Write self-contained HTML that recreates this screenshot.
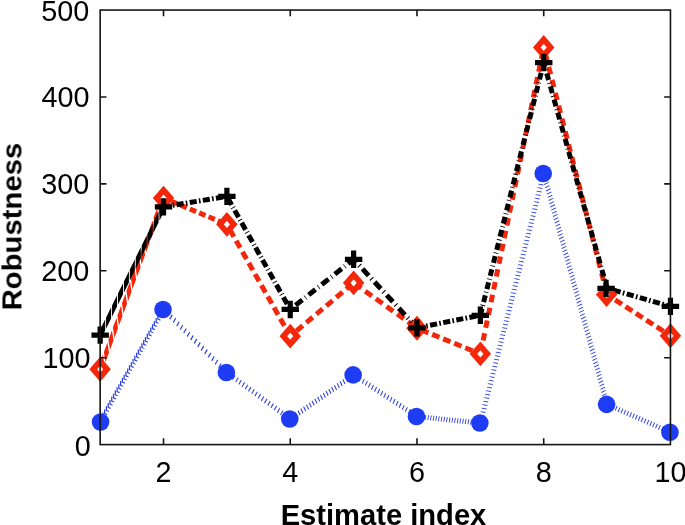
<!DOCTYPE html>
<html><head><meta charset="utf-8"><title>Robustness vs Estimate index</title>
<style>html,body{margin:0;padding:0;background:#fff;}body{width:685px;height:525px;overflow:hidden;font-family:"Liberation Sans",sans-serif;}svg{display:block;}</style>
</head><body>
<svg width="685" height="525" viewBox="0 0 685 525">
<rect width="100%" height="100%" fill="#fff"/>
<g class="series-blue"><path fill="#2c3fe6" d="M102.25 412.55h1.25v3.9l1.9 .8v1.1l-3.15-1.2zM104.03 409.4h1.25v3.9l1.9 .8v1.1l-3.15-1.2zM105.8 406.25h1.25v3.9l1.9 .8v1.1l-3.15-1.2zM107.58 403.1h1.25v3.9l1.9 .8v1.1l-3.15-1.2zM109.35 399.95h1.25v3.9l1.9 .8v1.1l-3.15-1.2zM111.13 396.8h1.25v3.9l1.9 .8v1.1l-3.15-1.2zM112.9 393.65h1.25v3.9l1.9 .8v1.1l-3.15-1.2zM114.68 390.5h1.25v3.9l1.9 .8v1.1l-3.15-1.2zM116.45 387.35h1.25v3.9l1.9 .8v1.1l-3.15-1.2zM118.23 384.2h1.25v3.9l1.9 .8v1.1l-3.15-1.2zM120 381.05h1.25v3.9l1.9 .8v1.1l-3.15-1.2zM121.78 377.9h1.25v3.9l1.9 .8v1.1l-3.15-1.2zM123.55 374.75h1.25v3.9l1.9 .8v1.1l-3.15-1.2zM125.33 371.6h1.25v3.9l1.9 .8v1.1l-3.15-1.2zM127.1 368.45h1.25v3.9l1.9 .8v1.1l-3.15-1.2zM128.88 365.3h1.25v3.9l1.9 .8v1.1l-3.15-1.2zM130.65 362.15h1.25v3.9l1.9 .8v1.1l-3.15-1.2zM132.43 359h1.25v3.9l1.9 .8v1.1l-3.15-1.2zM134.2 355.85h1.25v3.9l1.9 .8v1.1l-3.15-1.2zM135.98 352.7h1.25v3.9l1.9 .8v1.1l-3.15-1.2zM137.75 349.55h1.25v3.9l1.9 .8v1.1l-3.15-1.2zM139.53 346.4h1.25v3.9l1.9 .8v1.1l-3.15-1.2zM141.3 343.25h1.25v3.9l1.9 .8v1.1l-3.15-1.2zM143.08 340.1h1.25v3.9l1.9 .8v1.1l-3.15-1.2zM144.85 336.95h1.25v3.9l1.9 .8v1.1l-3.15-1.2zM146.63 333.8h1.25v3.9l1.9 .8v1.1l-3.15-1.2zM148.4 330.65h1.25v3.9l1.9 .8v1.1l-3.15-1.2zM150.17 327.5h1.25v3.9l1.9 .8v1.1l-3.15-1.2zM151.95 324.35h1.25v3.9l1.9 .8v1.1l-3.15-1.2zM153.72 321.2h1.25v3.9l1.9 .8v1.1l-3.15-1.2zM155.5 318.05h1.25v3.9l1.9 .8v1.1l-3.15-1.2zM157.27 314.9h1.25v3.9l1.9 .8v1.1l-3.15-1.2zM159.05 311.75h1.25v3.9l1.9 .8v1.1l-3.15-1.2z"/>
<path fill="#2c3fe6" d="M164.81 307.3L165.71 308.2L163.12 312.67L162.22 311.78ZM168.31 310.78L169.21 311.67L166.62 316.15L165.72 315.26ZM171.81 314.25L172.71 315.15L170.12 319.63L169.22 318.73ZM175.31 317.73L176.21 318.62L173.62 323.1L172.72 322.21ZM178.81 321.2L179.71 322.1L177.12 326.58L176.22 325.68ZM182.31 324.68L183.21 325.57L180.62 330.05L179.72 329.16ZM185.81 328.16L186.71 329.05L184.12 333.53L183.22 332.63ZM189.31 331.63L190.21 332.52L187.62 337L186.72 336.11ZM192.81 335.11L193.71 336L191.12 340.48L190.22 339.59ZM196.31 338.58L197.21 339.48L194.62 343.95L193.72 343.06ZM199.81 342.06L200.71 342.95L198.12 347.43L197.22 346.54ZM203.31 345.53L204.21 346.43L201.62 350.91L200.72 350.01ZM206.81 349.01L207.71 349.9L205.12 354.38L204.22 353.49ZM210.31 352.48L211.21 353.38L208.62 357.86L207.72 356.96ZM213.81 355.96L214.71 356.85L212.12 361.33L211.22 360.44ZM217.31 359.43L218.21 360.33L215.62 364.81L214.72 363.91ZM220.81 362.91L221.71 363.8L219.12 368.28L218.22 367.39ZM224.31 366.39L225.21 367.28L222.62 371.76L221.72 370.86ZM227.81 369.86L228.18 370.23L225.59 374.7L225.22 374.34Z"/>
<path fill="#2c3fe6" d="M228.14 370.29L229.04 370.95L226.53 375.3L225.63 374.64ZM231.34 372.64L232.24 373.3L229.73 377.66L228.83 377ZM234.54 374.99L235.44 375.65L232.93 380.01L232.03 379.35ZM237.74 377.34L238.64 378.01L236.13 382.36L235.23 381.7ZM240.94 379.7L241.84 380.36L239.33 384.71L238.43 384.05ZM244.14 382.05L245.04 382.71L242.53 387.07L241.63 386.41ZM247.34 384.4L248.24 385.06L245.73 389.42L244.83 388.76ZM250.54 386.75L251.44 387.42L248.93 391.77L248.03 391.11ZM253.74 389.11L254.64 389.77L252.13 394.12L251.23 393.46ZM256.94 391.46L257.84 392.12L255.33 396.48L254.43 395.82ZM260.14 393.81L261.04 394.47L258.53 398.83L257.63 398.17ZM263.34 396.16L264.24 396.83L261.73 401.18L260.83 400.52ZM266.54 398.52L267.44 399.18L264.93 403.53L264.03 402.87ZM269.74 400.87L270.64 401.53L268.13 405.89L267.23 405.23ZM272.94 403.22L273.84 403.88L271.33 408.24L270.43 407.58ZM276.14 405.57L277.04 406.24L274.53 410.59L273.63 409.93ZM279.34 407.93L280.24 408.59L277.73 412.94L276.83 412.28ZM282.54 410.28L283.44 410.94L280.93 415.3L280.03 414.63ZM285.74 412.63L286.64 413.29L284.13 417.65L283.23 416.99ZM288.94 414.98L289.84 415.64L287.33 420L286.43 419.34Z"/>
<path fill="#2c3fe6" d="M289.18 416.75L290.08 416.12L292.22 420.72L291.32 421.35ZM291.98 414.8L292.88 414.17L295.02 418.77L294.12 419.4ZM294.78 412.85L295.68 412.22L297.82 416.82L296.92 417.45ZM297.58 410.9L298.48 410.27L300.62 414.87L299.72 415.5ZM300.38 408.95L301.28 408.32L303.42 412.92L302.52 413.54ZM303.18 406.99L304.08 406.37L306.22 410.97L305.32 411.59ZM305.98 405.04L306.88 404.42L309.02 409.02L308.12 409.64ZM308.78 403.09L309.68 402.47L311.82 407.07L310.92 407.69ZM311.58 401.14L312.48 400.51L314.62 405.11L313.72 405.74ZM314.38 399.19L315.28 398.56L317.42 403.16L316.52 403.79ZM317.18 397.24L318.08 396.61L320.22 401.21L319.32 401.84ZM319.98 395.29L320.88 394.66L323.02 399.26L322.12 399.89ZM322.78 393.34L323.68 392.71L325.82 397.31L324.92 397.94ZM325.58 391.39L326.48 390.76L328.62 395.36L327.72 395.99ZM328.38 389.44L329.28 388.81L331.42 393.41L330.52 394.04ZM331.18 387.49L332.08 386.86L334.22 391.46L333.32 392.09ZM333.98 385.53L334.88 384.91L337.02 389.51L336.12 390.13ZM336.78 383.58L337.68 382.96L339.82 387.56L338.92 388.18ZM339.58 381.63L340.48 381.01L342.62 385.61L341.72 386.23ZM342.38 379.68L343.28 379.05L345.42 383.65L344.52 384.28ZM345.18 377.73L346.08 377.1L348.22 381.7L347.32 382.33ZM347.98 375.78L348.88 375.15L351.02 379.75L350.12 380.38ZM350.78 373.83L351.68 373.2L353.82 377.8L352.92 378.43Z"/>
<path fill="#2c3fe6" d="M354.68 372.61L355.58 373.2L353.45 377.78L352.55 377.19ZM357.75 374.63L358.65 375.22L356.52 379.8L355.62 379.2ZM360.82 376.64L361.72 377.23L359.59 381.81L358.69 381.22ZM363.89 378.66L364.79 379.25L362.66 383.83L361.76 383.24ZM366.96 380.68L367.86 381.27L365.73 385.85L364.83 385.26ZM370.03 382.69L370.93 383.28L368.8 387.86L367.9 387.27ZM373.1 384.71L374 385.3L371.87 389.88L370.97 389.29ZM376.17 386.73L377.07 387.32L374.94 391.9L374.04 391.31ZM379.24 388.74L380.14 389.33L378.01 393.91L377.11 393.32ZM382.31 390.76L383.21 391.35L381.08 395.93L380.18 395.34ZM385.38 392.78L386.28 393.37L384.15 397.95L383.25 397.36ZM388.45 394.79L389.35 395.39L387.22 399.97L386.32 399.37ZM391.52 396.81L392.42 397.4L390.29 401.98L389.39 401.39ZM394.59 398.83L395.49 399.42L393.36 404L392.46 403.41ZM397.66 400.84L398.56 401.44L396.43 406.02L395.53 405.42ZM400.73 402.86L401.63 403.45L399.5 408.03L398.6 407.44ZM403.8 404.88L404.7 405.47L402.57 410.05L401.67 409.46ZM406.87 406.9L407.77 407.49L405.64 412.07L404.74 411.48ZM409.94 408.91L410.84 409.5L408.71 414.08L407.81 413.49ZM413.01 410.93L413.91 411.52L411.78 416.1L410.88 415.51ZM416.08 412.95L416.98 413.54L414.85 418.12L413.95 417.53Z"/>
<path fill="#2c3fe6" d="M417.42 414.06L418.32 414.15L417.45 419.09L416.55 419ZM420.1 414.34L421 414.43L420.13 419.36L419.23 419.27ZM422.78 414.61L423.68 414.7L422.81 419.64L421.91 419.55ZM425.46 414.89L426.36 414.98L425.49 419.92L424.59 419.82ZM428.14 415.16L429.04 415.25L428.17 420.19L427.27 420.1ZM430.82 415.44L431.72 415.53L430.85 420.47L429.95 420.37ZM433.5 415.71L434.4 415.81L433.53 420.74L432.63 420.65ZM436.18 415.99L437.08 416.08L436.21 421.02L435.31 420.93ZM438.86 416.27L439.76 416.36L438.89 421.29L437.99 421.2ZM441.54 416.54L442.44 416.63L441.57 421.57L440.67 421.48ZM444.22 416.82L445.12 416.91L444.25 421.85L443.35 421.75ZM446.9 417.09L447.8 417.18L446.93 422.12L446.03 422.03ZM449.58 417.37L450.48 417.46L449.61 422.4L448.71 422.3ZM452.26 417.64L453.16 417.74L452.29 422.67L451.39 422.58ZM454.94 417.92L455.84 418.01L454.97 422.95L454.07 422.86ZM457.62 418.19L458.52 418.29L457.65 423.22L456.75 423.13ZM460.3 418.47L461.2 418.56L460.33 423.5L459.43 423.41ZM462.98 418.75L463.88 418.84L463.01 423.78L462.11 423.68ZM465.66 419.02L466.56 419.11L465.69 424.05L464.79 423.96ZM468.34 419.3L469.24 419.39L468.37 424.33L467.47 424.23ZM471.02 419.57L471.92 419.67L471.05 424.6L470.15 424.51ZM473.7 419.85L474.6 419.94L473.73 424.88L472.83 424.79ZM476.38 420.12L477.28 420.22L476.41 425.15L475.51 425.06ZM479.06 420.4L479.96 420.49L479.09 425.43L478.19 425.34Z"/>
<path fill="#2c3fe6" d="M477.88 422.61L478.11 421.71L483.05 422.58L482.82 423.48ZM478.77 419.11L479 418.21L483.94 419.08L483.71 419.98ZM479.66 415.61L479.89 414.71L484.82 415.58L484.6 416.48ZM480.55 412.11L480.78 411.21L485.71 412.08L485.48 412.98ZM481.44 408.61L481.66 407.71L486.6 408.58L486.37 409.48ZM482.32 405.11L482.55 404.21L487.49 405.08L487.26 405.98ZM483.21 401.61L483.44 400.71L488.38 401.58L488.15 402.48ZM484.1 398.11L484.33 397.21L489.27 398.08L489.04 398.98ZM484.99 394.61L485.22 393.71L490.16 394.58L489.93 395.48ZM485.88 391.11L486.11 390.21L491.04 391.08L490.82 391.98ZM486.77 387.61L487 386.71L491.93 387.58L491.7 388.48ZM487.66 384.11L487.88 383.21L492.82 384.08L492.59 384.98ZM488.54 380.61L488.77 379.71L493.71 380.58L493.48 381.48ZM489.43 377.11L489.66 376.21L494.6 377.08L494.37 377.98ZM490.32 373.61L490.55 372.71L495.49 373.58L495.26 374.48ZM491.21 370.11L491.44 369.21L496.38 370.08L496.15 370.98ZM492.1 366.61L492.33 365.71L497.26 366.58L497.04 367.48ZM492.99 363.11L493.21 362.21L498.15 363.08L497.92 363.98ZM493.87 359.61L494.1 358.71L499.04 359.58L498.81 360.48ZM494.76 356.11L494.99 355.21L499.93 356.08L499.7 356.98ZM495.65 352.61L495.88 351.71L500.82 352.58L500.59 353.48ZM496.54 349.11L496.77 348.21L501.71 349.08L501.48 349.98ZM497.43 345.61L497.66 344.71L502.6 345.58L502.37 346.48ZM498.32 342.11L498.55 341.21L503.48 342.08L503.26 342.98ZM499.21 338.61L499.43 337.71L504.37 338.58L504.14 339.48ZM500.09 335.11L500.32 334.21L505.26 335.08L505.03 335.98ZM500.98 331.61L501.21 330.71L506.15 331.58L505.92 332.48ZM501.87 328.11L502.1 327.21L507.04 328.08L506.81 328.98ZM502.76 324.61L502.99 323.71L507.93 324.58L507.7 325.48ZM503.65 321.11L503.88 320.21L508.81 321.08L508.59 321.98ZM504.54 317.61L504.77 316.71L509.7 317.58L509.47 318.48ZM505.43 314.11L505.65 313.21L510.59 314.08L510.36 314.98ZM506.31 310.61L506.54 309.71L511.48 310.58L511.25 311.48ZM507.2 307.11L507.43 306.21L512.37 307.08L512.14 307.98ZM508.09 303.61L508.32 302.71L513.26 303.58L513.03 304.48ZM508.98 300.11L509.21 299.21L514.15 300.08L513.92 300.98ZM509.87 296.61L510.1 295.71L515.03 296.58L514.81 297.48ZM510.76 293.11L510.99 292.21L515.92 293.08L515.69 293.98ZM511.65 289.61L511.87 288.71L516.81 289.58L516.58 290.48ZM512.53 286.11L512.76 285.21L517.7 286.08L517.47 286.98ZM513.42 282.61L513.65 281.71L518.59 282.58L518.36 283.48ZM514.31 279.11L514.54 278.21L519.48 279.08L519.25 279.98ZM515.2 275.61L515.43 274.71L520.37 275.58L520.14 276.48ZM516.09 272.11L516.32 271.21L521.25 272.08L521.03 272.98ZM516.98 268.61L517.21 267.71L522.14 268.58L521.91 269.48ZM517.87 265.11L518.09 264.21L523.03 265.08L522.8 265.98ZM518.75 261.61L518.98 260.71L523.92 261.58L523.69 262.48ZM519.64 258.11L519.87 257.21L524.81 258.08L524.58 258.98ZM520.53 254.61L520.76 253.71L525.7 254.58L525.47 255.48ZM521.42 251.11L521.65 250.21L526.59 251.08L526.36 251.98ZM522.31 247.61L522.54 246.71L527.47 247.58L527.25 248.48ZM523.2 244.11L523.42 243.21L528.36 244.08L528.13 244.98ZM524.09 240.61L524.31 239.71L529.25 240.58L529.02 241.48ZM524.97 237.11L525.2 236.21L530.14 237.08L529.91 237.98ZM525.86 233.61L526.09 232.71L531.03 233.58L530.8 234.48ZM526.75 230.11L526.98 229.21L531.92 230.08L531.69 230.98ZM527.64 226.61L527.87 225.71L532.81 226.58L532.58 227.48ZM528.53 223.11L528.76 222.21L533.69 223.08L533.47 223.98ZM529.42 219.61L529.64 218.71L534.58 219.58L534.35 220.48ZM530.3 216.11L530.53 215.21L535.47 216.08L535.24 216.98ZM531.19 212.61L531.42 211.71L536.36 212.58L536.13 213.48ZM532.08 209.11L532.31 208.21L537.25 209.08L537.02 209.98ZM532.97 205.61L533.2 204.71L538.14 205.58L537.91 206.48ZM533.86 202.11L534.09 201.21L539.02 202.08L538.8 202.98ZM534.75 198.61L534.98 197.71L539.91 198.58L539.69 199.48ZM535.64 195.11L535.86 194.21L540.8 195.08L540.57 195.98ZM536.52 191.61L536.75 190.71L541.69 191.58L541.46 192.48ZM537.41 188.11L537.64 187.21L542.58 188.08L542.35 188.98ZM538.3 184.61L538.53 183.71L543.47 184.58L543.24 185.48ZM539.19 181.11L539.42 180.21L544.36 181.08L544.13 181.98ZM540.08 177.61L540.31 176.71L545.24 177.58L545.02 178.48ZM540.97 174.11L541.2 173.21L546.13 174.08L545.9 174.98Z"/>
<path fill="#2c3fe6" d="M546.01 172.37L546.26 173.27L541.67 175.41L541.42 174.51ZM546.89 175.57L547.14 176.47L542.54 178.61L542.3 177.71ZM547.77 178.77L548.02 179.67L543.42 181.81L543.17 180.91ZM548.65 181.97L548.9 182.87L544.3 185.01L544.05 184.11ZM549.53 185.17L549.77 186.07L545.18 188.21L544.93 187.31ZM550.41 188.37L550.65 189.27L546.06 191.41L545.81 190.51ZM551.28 191.57L551.53 192.47L546.93 194.61L546.69 193.71ZM552.16 194.77L552.41 195.67L547.81 197.81L547.57 196.91ZM553.04 197.97L553.29 198.87L548.69 201.01L548.44 200.11ZM553.92 201.17L554.16 202.07L549.57 204.21L549.32 203.31ZM554.8 204.37L555.04 205.27L550.45 207.41L550.2 206.51ZM555.67 207.57L555.92 208.47L551.32 210.61L551.08 209.71ZM556.55 210.77L556.8 211.67L552.2 213.81L551.96 212.91ZM557.43 213.97L557.68 214.87L553.08 217.01L552.83 216.11ZM558.31 217.17L558.56 218.07L553.96 220.21L553.71 219.31ZM559.19 220.37L559.43 221.27L554.84 223.41L554.59 222.51ZM560.06 223.57L560.31 224.47L555.72 226.61L555.47 225.71ZM560.94 226.77L561.19 227.67L556.59 229.81L556.35 228.91ZM561.82 229.97L562.07 230.87L557.47 233.01L557.22 232.11ZM562.7 233.17L562.95 234.07L558.35 236.21L558.1 235.31ZM563.58 236.37L563.82 237.27L559.23 239.41L558.98 238.51ZM564.46 239.57L564.7 240.47L560.11 242.61L559.86 241.71ZM565.33 242.77L565.58 243.67L560.98 245.81L560.74 244.91ZM566.21 245.97L566.46 246.87L561.86 249.01L561.61 248.11ZM567.09 249.17L567.34 250.07L562.74 252.21L562.49 251.31ZM567.97 252.37L568.21 253.27L563.62 255.41L563.37 254.51ZM568.85 255.57L569.09 256.47L564.5 258.61L564.25 257.71ZM569.72 258.77L569.97 259.67L565.37 261.81L565.13 260.91ZM570.6 261.97L570.85 262.87L566.25 265.01L566.01 264.11ZM571.48 265.17L571.73 266.07L567.13 268.21L566.88 267.31ZM572.36 268.37L572.61 269.27L568.01 271.41L567.76 270.51ZM573.24 271.57L573.48 272.47L568.89 274.61L568.64 273.71ZM574.11 274.77L574.36 275.67L569.76 277.81L569.52 276.91ZM574.99 277.97L575.24 278.87L570.64 281.01L570.4 280.11ZM575.87 281.17L576.12 282.07L571.52 284.21L571.27 283.31ZM576.75 284.37L577 285.27L572.4 287.41L572.15 286.51ZM577.63 287.57L577.87 288.47L573.28 290.61L573.03 289.71ZM578.51 290.77L578.75 291.67L574.16 293.81L573.91 292.91ZM579.38 293.97L579.63 294.87L575.03 297.01L574.79 296.11ZM580.26 297.17L580.51 298.07L575.91 300.21L575.66 299.31ZM581.14 300.37L581.39 301.27L576.79 303.41L576.54 302.51ZM582.02 303.57L582.26 304.47L577.67 306.61L577.42 305.71ZM582.9 306.77L583.14 307.67L578.55 309.81L578.3 308.91ZM583.77 309.97L584.02 310.87L579.42 313.01L579.18 312.11ZM584.65 313.17L584.9 314.07L580.3 316.21L580.06 315.31ZM585.53 316.37L585.78 317.27L581.18 319.41L580.93 318.51ZM586.41 319.57L586.66 320.47L582.06 322.61L581.81 321.71ZM587.29 322.77L587.53 323.67L582.94 325.81L582.69 324.91ZM588.16 325.97L588.41 326.87L583.81 329.01L583.57 328.11ZM589.04 329.17L589.29 330.07L584.69 332.21L584.45 331.31ZM589.92 332.37L590.17 333.27L585.57 335.41L585.32 334.51ZM590.8 335.57L591.05 336.47L586.45 338.61L586.2 337.71ZM591.68 338.77L591.92 339.67L587.33 341.81L587.08 340.91ZM592.55 341.97L592.8 342.87L588.21 345.01L587.96 344.11ZM593.43 345.17L593.68 346.07L589.08 348.21L588.84 347.31ZM594.31 348.37L594.56 349.27L589.96 351.41L589.71 350.51ZM595.19 351.57L595.44 352.47L590.84 354.61L590.59 353.71ZM596.07 354.77L596.31 355.67L591.72 357.81L591.47 356.91ZM596.95 357.97L597.19 358.87L592.6 361.01L592.35 360.11ZM597.82 361.17L598.07 362.07L593.47 364.21L593.23 363.31ZM598.7 364.37L598.95 365.27L594.35 367.41L594.11 366.51ZM599.58 367.57L599.83 368.47L595.23 370.61L594.98 369.71ZM600.46 370.77L600.7 371.67L596.11 373.81L595.86 372.91ZM601.34 373.97L601.58 374.87L596.99 377.01L596.74 376.11ZM602.21 377.17L602.46 378.07L597.86 380.21L597.62 379.31ZM603.09 380.37L603.34 381.27L598.74 383.41L598.5 382.51ZM603.97 383.57L604.22 384.47L599.62 386.61L599.37 385.71ZM604.85 386.77L605.1 387.67L600.5 389.81L600.25 388.91ZM605.73 389.97L605.97 390.87L601.38 393.01L601.13 392.11ZM606.6 393.17L606.85 394.07L602.25 396.21L602.01 395.31ZM607.48 396.37L607.73 397.27L603.13 399.41L602.89 398.51ZM608.36 399.57L608.61 400.47L604.01 402.61L603.76 401.71ZM609.24 402.77L609.38 403.29L604.79 405.43L604.64 404.91Z"/>
<path fill="#2c3fe6" d="M608.06 402.06L608.96 402.46L607.01 407.06L606.11 406.66ZM610.94 403.33L611.84 403.72L609.89 408.33L608.99 407.93ZM613.82 404.6L614.72 404.99L612.77 409.59L611.87 409.2ZM616.7 405.86L617.6 406.26L615.65 410.86L614.75 410.47ZM619.58 407.13L620.48 407.53L618.53 412.13L617.63 411.73ZM622.46 408.4L623.36 408.8L621.41 413.4L620.51 413ZM625.34 409.67L626.24 410.06L624.29 414.67L623.39 414.27ZM628.22 410.93L629.12 411.33L627.17 415.93L626.27 415.54ZM631.1 412.2L632 412.6L630.05 417.2L629.15 416.81ZM633.98 413.47L634.88 413.87L632.93 418.47L632.03 418.07ZM636.86 414.74L637.76 415.14L635.81 419.74L634.91 419.34ZM639.74 416.01L640.64 416.4L638.69 421.01L637.79 420.61ZM642.62 417.27L643.52 417.67L641.57 422.27L640.67 421.88ZM645.5 418.54L646.4 418.94L644.45 423.54L643.55 423.15ZM648.38 419.81L649.28 420.21L647.33 424.81L646.43 424.41ZM651.26 421.08L652.16 421.47L650.21 426.08L649.31 425.68ZM654.14 422.35L655.04 422.74L653.09 427.35L652.19 426.95ZM657.02 423.61L657.92 424.01L655.97 428.61L655.07 428.22ZM659.9 424.88L660.8 425.28L658.85 429.88L657.95 429.49ZM662.78 426.15L663.68 426.55L661.73 431.15L660.83 430.75ZM665.66 427.42L666.56 427.81L664.61 432.42L663.71 432.02ZM668.54 428.69L669.44 429.08L667.49 433.69L666.59 433.29Z"/></g>
<g class="series-red"><path fill="#f5270a" d="M99.37 364.16L102.91 354.6L104.47 364.77L100.93 374.34ZM103.88 351.97L107.42 342.4L108.99 352.58L105.45 362.15ZM108.4 339.78L111.94 330.21L113.5 340.39L109.96 349.96ZM112.91 327.59L116.45 318.02L118.02 328.2L114.47 337.76ZM117.43 315.4L120.97 305.83L122.53 316.01L118.99 325.57ZM121.94 303.21L125.48 293.64L127.05 303.82L123.5 313.38ZM126.45 291.01L130 281.45L131.56 291.63L128.02 301.19ZM130.97 278.82L134.51 269.26L136.07 279.43L132.53 289ZM135.48 266.63L139.02 257.07L140.59 267.24L137.05 276.81ZM140 254.44L143.54 244.88L145.1 255.05L141.56 264.62ZM144.51 242.25L148.05 232.69L149.62 242.86L146.07 252.43ZM149.03 230.06L152.57 220.49L154.13 230.67L150.59 240.24ZM153.54 217.87L157.08 208.3L158.64 218.48L155.1 228.04ZM158.05 205.68L161.6 196.11L163.16 206.29L159.62 215.85ZM162.57 193.49L162.73 193.04L164.3 203.21L164.13 203.66Z"/>
<path fill="#f5270a" d="M164.47 195.81L169.09 197.73L167.18 202.35L162.56 200.43ZM172.14 198.99L178.42 201.59L176.51 206.21L170.23 203.61ZM181.47 202.85L187.76 205.46L185.84 210.08L179.56 207.47ZM190.8 206.72L197.09 209.32L195.17 213.94L188.89 211.34ZM200.14 210.58L206.42 213.19L204.5 217.81L198.22 215.2ZM209.47 214.45L215.75 217.05L213.84 221.67L207.55 219.07ZM218.8 218.31L225.08 220.92L223.17 225.54L216.88 222.93Z"/>
<path fill="#f5270a" d="M229.06 223.14L229.75 224.35L225.4 226.82L224.71 225.6ZM232.02 228.36L236.06 235.49L231.71 237.96L227.67 230.82ZM238.33 239.49L242.37 246.62L238.03 249.09L233.98 241.96ZM244.64 250.63L248.69 257.76L244.34 260.23L240.29 253.09ZM250.96 261.76L255 268.89L250.65 271.36L246.61 264.23ZM257.27 272.9L261.31 280.03L256.96 282.5L252.92 275.36ZM263.58 284.03L267.63 291.16L263.28 293.63L259.23 286.5ZM269.9 295.17L273.94 302.3L269.59 304.77L265.55 297.63ZM276.21 306.3L280.25 313.43L275.9 315.9L271.86 308.77ZM282.52 317.44L286.57 324.57L282.22 327.04L278.17 319.9ZM288.83 328.57L292.42 334.9L288.08 337.37L284.48 331.04Z"/>
<path fill="#f5270a" d="M288.64 334.22L291.17 332.1L294.38 335.93L291.86 338.05ZM294.84 329.01L301.12 323.73L304.34 327.56L298.06 332.84ZM304.79 320.64L311.07 315.37L314.29 319.19L308.01 324.47ZM314.74 312.28L321.02 307L324.24 310.83L317.96 316.11ZM324.69 303.91L330.97 298.64L334.19 302.46L327.91 307.74ZM334.64 295.55L340.92 290.27L344.14 294.1L337.86 299.37ZM344.59 287.18L350.87 281.9L354.09 285.73L347.81 291.01Z"/>
<path fill="#f5270a" d="M356.05 281.53L362.72 286.3L359.8 290.37L353.14 285.59ZM366.7 289.15L373.37 293.93L370.46 297.99L363.79 293.22ZM377.35 296.78L384.02 301.55L381.11 305.62L374.44 300.84ZM388 304.4L394.67 309.18L391.76 313.24L385.09 308.47ZM398.65 312.03L405.32 316.8L402.41 320.87L395.74 316.1ZM409.31 319.66L415.97 324.43L413.06 328.49L406.39 323.72Z"/>
<path fill="#f5270a" d="M417.92 325.91L418.29 326.06L416.42 330.7L416.05 330.55ZM422.09 327.6L429.32 330.52L427.45 335.16L420.22 332.23ZM433.12 332.06L440.35 334.99L438.48 339.62L431.25 336.7ZM444.16 336.52L451.39 339.45L449.51 344.08L442.28 341.16ZM455.19 340.99L462.42 343.91L460.54 348.55L453.31 345.62ZM466.22 345.45L473.45 348.38L471.57 353.01L464.34 350.09ZM477.25 349.91L481.29 351.55L479.41 356.18L475.37 354.55Z"/>
<path fill="#f5270a" d="M478 352.87L479.52 345.53L484.42 346.54L482.9 353.88ZM480.65 340.07L482.17 332.73L487.06 333.74L485.55 341.08ZM483.3 327.27L484.82 319.93L489.71 320.94L488.19 328.28ZM485.94 314.47L487.46 307.13L492.36 308.14L490.84 315.48ZM488.59 301.67L490.11 294.33L495 295.34L493.49 302.69ZM491.24 288.87L492.75 281.53L497.65 282.54L496.13 289.89ZM493.88 276.07L495.4 268.73L500.3 269.74L498.78 277.09ZM496.53 263.28L498.05 255.93L502.94 256.94L501.43 264.29ZM499.18 250.48L500.69 243.13L505.59 244.14L504.07 251.49ZM501.82 237.68L503.34 230.33L508.24 231.34L506.72 238.69ZM504.47 224.88L505.99 217.53L510.88 218.55L509.37 225.89ZM507.12 212.08L508.63 204.73L513.53 205.75L512.01 213.09ZM509.76 199.28L511.28 191.93L516.18 192.95L514.66 200.29ZM512.41 186.48L513.93 179.14L518.82 180.15L517.31 187.49ZM515.06 173.68L516.57 166.34L521.47 167.35L519.95 174.69ZM517.7 160.88L519.22 153.54L524.12 154.55L522.6 161.89ZM520.35 148.08L521.87 140.74L526.76 141.75L525.25 149.09ZM523 135.28L524.51 127.94L529.41 128.95L527.89 136.3ZM525.64 122.48L527.16 115.14L532.06 116.15L530.54 123.5ZM528.29 109.68L529.81 102.34L534.7 103.35L533.19 110.7ZM530.94 96.89L532.45 89.54L537.35 90.55L535.83 97.9ZM533.58 84.09L535.1 76.74L540 77.75L538.48 85.1ZM536.23 71.29L537.75 63.94L542.64 64.95L541.13 72.3ZM538.88 58.49L540.39 51.14L545.29 52.16L543.77 59.5Z"/>
<path fill="#f5270a" d="M546.14 46.8L546.44 47.96L541.59 49.2L541.29 48.04ZM547.85 53.48L549.74 60.85L544.9 62.09L543.01 54.73ZM551.15 66.37L553.04 73.73L548.2 74.97L546.31 67.61ZM554.46 79.25L556.34 86.61L551.5 87.85L549.61 80.49ZM557.76 92.13L559.65 99.5L554.8 100.74L552.92 93.38ZM561.06 105.02L562.95 112.38L558.11 113.62L556.22 106.26ZM564.37 117.9L566.25 125.26L561.41 126.5L559.52 119.14ZM567.67 130.78L569.56 138.15L564.71 139.39L562.83 132.03ZM570.97 143.67L572.86 151.03L568.02 152.27L566.13 144.91ZM574.27 156.55L576.16 163.91L571.32 165.15L569.43 157.79ZM577.58 169.43L579.47 176.8L574.62 178.04L572.73 170.68ZM580.88 182.32L582.77 189.68L577.92 190.92L576.04 183.56ZM584.18 195.2L586.07 202.56L581.23 203.8L579.34 196.44ZM587.49 208.08L589.37 215.45L584.53 216.69L582.64 209.33ZM590.79 220.97L592.68 228.33L587.83 229.57L585.95 222.21ZM594.09 233.85L595.98 241.21L591.14 242.46L589.25 235.09ZM597.39 246.73L599.28 254.1L594.44 255.34L592.55 247.98ZM600.7 259.62L602.59 266.98L597.74 268.22L595.85 260.86ZM604 272.5L605.89 279.86L601.04 281.11L599.16 273.74ZM607.3 285.38L609.19 292.75L604.35 293.99L602.46 286.63Z"/>
<path fill="#f5270a" d="M608.45 292.5L612.89 295.39L610.16 299.58L605.72 296.69ZM616.49 297.73L623.29 302.14L620.56 306.34L613.77 301.92ZM626.89 304.49L633.68 308.9L630.96 313.1L624.17 308.68ZM637.29 311.25L644.08 315.66L641.35 319.85L634.56 315.44ZM647.68 318.01L654.47 322.42L651.75 326.61L644.96 322.2ZM658.08 324.76L664.87 329.18L662.15 333.37L655.35 328.96ZM668.48 331.52L671.81 333.69L669.09 337.88L665.75 335.72Z"/></g>
<g class="series-black"><path fill="#000" d="M100.18 329.39L105.22 319.19L105.16 330.6L100.12 340.8ZM106.11 317.39L111.15 307.19L111.09 318.6L106.05 328.8ZM112.04 305.39L117.09 295.19L117.03 306.6L111.98 316.8ZM117.98 293.39L123.02 283.19L122.96 294.6L117.92 304.8ZM123.91 281.39L128.95 271.19L128.89 282.6L123.85 292.8ZM129.84 269.39L134.88 259.19L134.82 270.6L129.78 280.8ZM135.77 257.39L140.81 247.19L140.75 258.6L135.71 268.8ZM141.7 245.39L146.74 235.19L146.68 246.6L141.64 256.8ZM147.63 233.39L152.68 223.19L152.62 234.6L147.57 244.8ZM153.57 221.39L158.61 211.19L158.55 222.6L153.51 232.8ZM159.5 209.39L163.55 201.2L163.49 212.6L159.44 220.8Z"/>
<path fill="#000" d="M163.11 204.43L170.11 203.27L170.93 208.21L163.93 209.37ZM172.31 202.91L173.91 202.64L174.73 207.58L173.13 207.84ZM176.21 202.26L183.21 201.1L184.03 206.03L177.03 207.19ZM185.41 200.73L187.01 200.47L187.83 205.4L186.23 205.67ZM189.31 200.09L196.31 198.93L197.13 203.86L190.13 205.02ZM198.51 198.56L200.11 198.29L200.93 203.23L199.33 203.49ZM202.41 197.91L209.41 196.75L210.23 201.68L203.23 202.85ZM211.61 196.39L213.21 196.12L214.03 201.05L212.43 201.32ZM215.51 195.74L222.51 194.58L223.33 199.51L216.33 200.67ZM224.71 194.21L226.31 193.95L227.13 198.88L225.53 199.14Z"/>
<path fill="#000" d="M229.96 196.76L233.83 203.66L229.47 206.11L225.6 199.21ZM235.14 206.01L235.59 206.81L231.23 209.26L230.78 208.46ZM236.91 209.16L240.78 216.06L236.42 218.51L232.55 211.61ZM242.09 218.41L242.54 219.21L238.18 221.66L237.73 220.86ZM243.86 221.56L247.73 228.46L243.36 230.91L239.5 224.01ZM249.04 230.81L249.49 231.61L245.13 234.06L244.68 233.26ZM250.81 233.96L254.68 240.86L250.31 243.31L246.45 236.41ZM255.99 243.21L256.44 244.01L252.08 246.46L251.63 245.66ZM257.76 246.36L261.62 253.26L257.26 255.71L253.4 248.81ZM262.94 255.61L263.39 256.41L259.03 258.86L258.58 258.06ZM264.71 258.76L268.57 265.66L264.21 268.11L260.35 261.21ZM269.89 268.01L270.34 268.81L265.98 271.26L265.53 270.46ZM271.66 271.16L275.52 278.06L271.16 280.51L267.29 273.61ZM276.84 280.41L277.29 281.21L272.93 283.66L272.48 282.86ZM278.61 283.56L282.47 290.46L278.11 292.91L274.24 286.01ZM283.79 292.81L284.24 293.61L279.88 296.06L279.43 295.26ZM285.55 295.96L289.42 302.86L285.06 305.31L281.19 298.41ZM290.74 305.21L291.19 306.01L286.83 308.46L286.38 307.66Z"/>
<path fill="#000" d="M290.5 306.07L291.1 305.6L294.2 309.52L293.6 309.99ZM294 303.3L300.8 297.92L303.9 301.84L297.1 307.22ZM303.6 295.7L304.2 295.23L307.3 299.15L306.7 299.62ZM307.1 292.93L313.9 287.55L317 291.47L310.2 296.85ZM316.7 285.34L317.3 284.86L320.4 288.78L319.8 289.26ZM320.2 282.57L327 277.18L330.1 281.11L323.3 286.49ZM329.8 274.97L330.4 274.49L333.5 278.41L332.9 278.89ZM333.3 272.2L340.1 266.82L343.2 270.74L336.4 276.12ZM342.9 264.6L343.5 264.13L346.6 268.05L346 268.52ZM346.4 261.83L352.07 257.35L355.17 261.27L349.5 265.75Z"/>
<path fill="#000" d="M355.45 257.61L358.41 260.81L354.74 264.2L351.78 261ZM361 263.61L361.74 264.41L358.06 267.8L357.33 267ZM364.32 267.21L370.52 273.91L366.84 277.3L360.65 270.6ZM373.1 276.71L373.84 277.51L370.17 280.9L369.43 280.1ZM376.43 280.31L382.62 287.01L378.95 290.4L372.76 283.7ZM385.21 289.81L385.95 290.61L382.28 294L381.54 293.2ZM388.54 293.41L394.73 300.11L391.05 303.5L384.86 296.8ZM397.31 302.91L398.05 303.71L394.38 307.1L393.64 306.3ZM400.64 306.51L406.83 313.21L403.16 316.6L396.97 309.9ZM409.42 316.01L410.16 316.81L406.49 320.2L405.75 319.4ZM412.75 319.61L418.82 326.18L415.15 329.58L409.07 323Z"/>
<path fill="#000" d="M416.5 325.43L423.5 324.04L424.47 328.94L417.47 330.33ZM425.7 323.6L427.3 323.28L428.27 328.18L426.67 328.5ZM429.6 322.82L436.6 321.43L437.57 326.33L430.57 327.73ZM438.8 320.99L440.4 320.67L441.37 325.58L439.77 325.9ZM442.7 320.22L449.7 318.83L450.67 323.73L443.67 325.12ZM451.9 318.39L453.5 318.07L454.47 322.97L452.87 323.29ZM455.8 317.61L462.8 316.22L463.77 321.12L456.77 322.52ZM465 315.78L466.6 315.46L467.57 320.37L465.97 320.69ZM468.9 315.01L475.9 313.61L476.87 318.52L469.87 319.91ZM478.1 313.18L479.7 312.86L480.67 317.76L479.07 318.08Z"/>
<path fill="#000" d="M477.93 314.67L479.6 307.97L484.45 309.19L482.77 315.89ZM480.31 305.17L480.51 304.37L485.36 305.59L485.16 306.39ZM481.21 301.57L482.89 294.87L487.74 296.09L486.06 302.79ZM483.59 292.07L483.79 291.27L488.64 292.49L488.44 293.29ZM484.49 288.47L486.17 281.77L491.02 282.99L489.34 289.69ZM486.88 278.97L487.08 278.17L491.93 279.39L491.73 280.19ZM487.78 275.37L489.46 268.67L494.31 269.89L492.63 276.59ZM490.16 265.87L490.36 265.07L495.21 266.29L495.01 267.09ZM491.06 262.27L492.74 255.57L497.59 256.79L495.91 263.49ZM493.44 252.77L493.65 251.97L498.5 253.19L498.29 253.99ZM494.35 249.17L496.03 242.47L500.88 243.69L499.2 250.39ZM496.73 239.67L496.93 238.87L501.78 240.09L501.58 240.89ZM497.63 236.07L499.31 229.37L504.16 230.59L502.48 237.29ZM500.01 226.57L500.21 225.77L505.06 226.99L504.86 227.79ZM500.92 222.97L502.6 216.27L507.45 217.49L505.77 224.19ZM503.3 213.47L503.5 212.67L508.35 213.89L508.15 214.69ZM504.2 209.87L505.88 203.17L510.73 204.39L509.05 211.09ZM506.58 200.37L506.78 199.57L511.63 200.79L511.43 201.59ZM507.49 196.77L509.17 190.07L514.02 191.29L512.34 197.99ZM509.87 187.27L510.07 186.47L514.92 187.69L514.72 188.49ZM510.77 183.67L512.45 176.97L517.3 178.19L515.62 184.89ZM513.15 174.17L513.35 173.37L518.2 174.59L518 175.39ZM514.05 170.57L515.73 163.87L520.58 165.09L518.9 171.79ZM516.44 161.07L516.64 160.27L521.49 161.49L521.29 162.29ZM517.34 157.47L519.02 150.77L523.87 151.99L522.19 158.69ZM519.72 147.97L519.92 147.17L524.77 148.39L524.57 149.19ZM520.62 144.37L522.3 137.67L527.15 138.89L525.47 145.59ZM523.01 134.87L523.21 134.07L528.06 135.29L527.86 136.09ZM523.91 131.27L525.59 124.57L530.44 125.79L528.76 132.49ZM526.29 121.77L526.49 120.97L531.34 122.19L531.14 122.99ZM527.19 118.17L528.87 111.47L533.72 112.69L532.04 119.39ZM529.57 108.67L529.77 107.87L534.62 109.09L534.42 109.89ZM530.48 105.07L532.16 98.37L537.01 99.59L535.33 106.29ZM532.86 95.57L533.06 94.77L537.91 95.99L537.71 96.79ZM533.76 91.97L535.44 85.27L540.29 86.49L538.61 93.19ZM536.14 82.47L536.34 81.67L541.19 82.89L540.99 83.69ZM537.05 78.87L538.73 72.17L543.58 73.39L541.9 80.09ZM539.43 69.37L539.63 68.57L544.48 69.79L544.28 70.59ZM540.33 65.77L541.29 61.94L546.14 63.15L545.18 66.99Z"/>
<path fill="#000" d="M546.12 61.87L547.36 66.27L542.54 67.62L541.31 63.22ZM548.14 69.07L548.37 69.87L543.55 71.22L543.33 70.42ZM549.15 72.67L551.03 79.37L546.22 80.72L544.34 74.02ZM551.82 82.17L552.05 82.97L547.23 84.32L547.01 83.52ZM552.83 85.77L554.71 92.47L549.9 93.82L548.02 87.12ZM555.5 95.27L555.72 96.07L550.91 97.42L550.68 96.62ZM556.51 98.87L558.39 105.57L553.57 106.92L551.69 100.22ZM559.17 108.37L559.4 109.17L554.58 110.52L554.36 109.72ZM560.18 111.97L562.06 118.67L557.25 120.02L555.37 113.32ZM562.85 121.47L563.07 122.27L558.26 123.62L558.04 122.82ZM563.86 125.07L565.74 131.77L560.93 133.12L559.05 126.42ZM566.53 134.57L566.75 135.37L561.94 136.72L561.71 135.92ZM567.54 138.17L569.42 144.87L564.6 146.22L562.72 139.52ZM570.2 147.67L570.43 148.47L565.61 149.82L565.39 149.02ZM571.21 151.27L573.09 157.97L568.28 159.32L566.4 152.62ZM573.88 160.77L574.1 161.57L569.29 162.92L569.07 162.12ZM574.89 164.37L576.77 171.07L571.96 172.42L570.08 165.72ZM577.56 173.87L577.78 174.67L572.97 176.02L572.74 175.22ZM578.57 177.47L580.45 184.17L575.63 185.52L573.75 178.82ZM581.23 186.97L581.46 187.77L576.64 189.12L576.42 188.32ZM582.24 190.57L584.12 197.27L579.31 198.62L577.43 191.92ZM584.91 200.07L585.13 200.87L580.32 202.22L580.09 201.42ZM585.92 203.67L587.8 210.37L582.98 211.72L581.1 205.02ZM588.58 213.17L588.81 213.97L584 215.32L583.77 214.52ZM589.6 216.77L591.48 223.47L586.66 224.82L584.78 218.12ZM592.26 226.27L592.49 227.07L587.67 228.42L587.45 227.62ZM593.27 229.87L595.15 236.57L590.34 237.92L588.46 231.22ZM595.94 239.37L596.16 240.17L591.35 241.52L591.12 240.72ZM596.95 242.97L598.83 249.67L594.01 251.02L592.13 244.32ZM599.61 252.47L599.84 253.27L595.02 254.62L594.8 253.82ZM600.62 256.07L602.5 262.77L597.69 264.12L595.81 257.42ZM603.29 265.57L603.51 266.37L598.7 267.72L598.48 266.92ZM604.3 269.17L606.18 275.87L601.37 277.22L599.49 270.52ZM606.97 278.67L607.19 279.47L602.38 280.82L602.15 280.02ZM607.98 282.27L609.49 287.66L604.68 289.01L603.16 283.62Z"/>
<path fill="#000" d="M607.77 285.93L608.17 286.05L606.8 290.85L606.4 290.74ZM610.37 286.67L611.97 287.13L610.6 291.94L609 291.48ZM614.27 287.79L621.27 289.78L619.9 294.59L612.9 292.59ZM623.47 290.41L625.07 290.87L623.7 295.68L622.1 295.22ZM627.37 291.52L634.37 293.52L633 298.33L626 296.33ZM636.57 294.15L638.17 294.6L636.8 299.41L635.2 298.96ZM640.47 295.26L647.47 297.26L646.1 302.07L639.1 300.07ZM649.67 297.88L651.27 298.34L649.9 303.15L648.3 302.69ZM653.57 299L660.57 300.99L659.2 305.8L652.2 303.81ZM662.77 301.62L664.37 302.08L663 306.89L661.4 306.43ZM666.67 302.73L671.14 304.01L669.76 308.82L665.3 307.54Z"/></g>
<circle cx="100.55" cy="422" r="8.8" fill="#1f3cf5"/>
<circle cx="163.02" cy="309.54" r="8.8" fill="#1f3cf5"/>
<circle cx="226.38" cy="372.46" r="8.8" fill="#1f3cf5"/>
<circle cx="289.75" cy="419.05" r="8.8" fill="#1f3cf5"/>
<circle cx="353.12" cy="374.9" r="8.8" fill="#1f3cf5"/>
<circle cx="416.48" cy="416.53" r="8.8" fill="#1f3cf5"/>
<circle cx="479.85" cy="423.05" r="8.8" fill="#1f3cf5"/>
<circle cx="543.22" cy="173.44" r="8.8" fill="#1f3cf5"/>
<circle cx="606.58" cy="404.36" r="8.8" fill="#1f3cf5"/>
<circle cx="669.95" cy="432.26" r="8.8" fill="#1f3cf5"/>
<path d="M93.25 369.25L100.15 361.25L107.05 369.25L100.15 377.25Z" stroke="#f5270a" stroke-width="5.8" fill="#fff" stroke-linejoin="miter"/>
<path d="M156.62 198.12L163.52 190.12L170.42 198.12L163.52 206.12Z" stroke="#f5270a" stroke-width="5.8" fill="#fff" stroke-linejoin="miter"/>
<path d="M219.98 224.37L226.88 216.37L233.78 224.37L226.88 232.37Z" stroke="#f5270a" stroke-width="5.8" fill="#fff" stroke-linejoin="miter"/>
<path d="M283.35 336.14L290.25 328.14L297.15 336.14L290.25 344.14Z" stroke="#f5270a" stroke-width="5.8" fill="#fff" stroke-linejoin="miter"/>
<path d="M346.72 282.86L353.62 274.86L360.52 282.86L353.62 290.86Z" stroke="#f5270a" stroke-width="5.8" fill="#fff" stroke-linejoin="miter"/>
<path d="M410.08 328.23L416.98 320.23L423.88 328.23L416.98 336.23Z" stroke="#f5270a" stroke-width="5.8" fill="#fff" stroke-linejoin="miter"/>
<path d="M473.45 353.87L480.35 345.87L487.25 353.87L480.35 361.87Z" stroke="#f5270a" stroke-width="5.8" fill="#fff" stroke-linejoin="miter"/>
<path d="M536.82 47.42L543.72 39.42L550.62 47.42L543.72 55.42Z" stroke="#f5270a" stroke-width="5.8" fill="#fff" stroke-linejoin="miter"/>
<path d="M599.68 294.59L606.58 286.59L613.48 294.59L606.58 302.59Z" stroke="#f5270a" stroke-width="5.8" fill="#fff" stroke-linejoin="miter"/>
<path d="M663.55 335.79L670.45 327.79L677.35 335.79L670.45 343.79Z" stroke="#f5270a" stroke-width="5.8" fill="#fff" stroke-linejoin="miter"/>
<path d="M91.45 335.09H108.85M100.15 326.39V343.79" stroke="#000" stroke-width="5.2" fill="none"/>
<path d="M154.82 206.9H172.22M163.52 198.2V215.6" stroke="#000" stroke-width="5.2" fill="none"/>
<path d="M218.18 196.39H235.58M226.88 187.69V205.09" stroke="#000" stroke-width="5.2" fill="none"/>
<path d="M281.55 309.45H298.95M290.25 300.75V318.15" stroke="#000" stroke-width="5.2" fill="none"/>
<path d="M344.92 259.31H362.32M353.62 250.61V268.01" stroke="#000" stroke-width="5.2" fill="none"/>
<path d="M408.28 327.88H425.68M416.98 319.18V336.58" stroke="#000" stroke-width="5.2" fill="none"/>
<path d="M471.65 315.28H489.05M480.35 306.58V323.98" stroke="#000" stroke-width="5.2" fill="none"/>
<path d="M535.02 62.54H552.42M543.72 53.84V71.24" stroke="#000" stroke-width="5.2" fill="none"/>
<path d="M597.38 288.34H614.78M606.08 279.64V297.04" stroke="#000" stroke-width="5.2" fill="none"/>
<path d="M661.75 306.41H679.15M670.45 297.71V315.11" stroke="#000" stroke-width="5.2" fill="none"/>
<g stroke="#141414" stroke-width="1.6" fill="none">
<rect x="100.15" y="10.05" width="570.3" height="434.55"/>
<path d="M163.52 444.6v-6.3M163.52 10.05v6.3"/>
<path d="M290.25 444.6v-6.3M290.25 10.05v6.3"/>
<path d="M416.98 444.6v-6.3M416.98 10.05v6.3"/>
<path d="M543.72 444.6v-6.3M543.72 10.05v6.3"/>
<path d="M100.15 357.69h6.3M670.45 357.69h-6.3"/>
<path d="M100.15 270.78h6.3M670.45 270.78h-6.3"/>
<path d="M100.15 183.87h6.3M670.45 183.87h-6.3"/>
<path d="M100.15 96.96h6.3M670.45 96.96h-6.3"/>
</g>
<g font-family="'Liberation Sans', sans-serif" font-size="28.8" fill="#000" opacity="0.999">
<text x="90.8" y="455.55" text-anchor="end">0</text>
<text x="90.6" y="368.14" text-anchor="end">100</text>
<text x="89.3" y="281.23" text-anchor="end">200</text>
<text x="89.3" y="194.32" text-anchor="end">300</text>
<text x="89.6" y="107.41" text-anchor="end">400</text>
<text x="89.3" y="20.5" text-anchor="end">500</text>
<text x="163.52" y="482" text-anchor="middle">2</text>
<text x="290.25" y="482" text-anchor="middle">4</text>
<text x="416.98" y="482" text-anchor="middle">6</text>
<text x="543.72" y="482" text-anchor="middle">8</text>
<text x="670.45" y="482" text-anchor="middle">10</text>
<text transform="translate(383.5 525.1) scale(1.012 1.01)" text-anchor="middle" font-weight="bold" font-size="28.8">Estimate index</text>
<text transform="translate(21.1 226.6) rotate(-90) scale(1.018 0.95)" text-anchor="middle" font-weight="bold" font-size="28.8">Robustness</text>
</g>
</svg>
</body></html>
